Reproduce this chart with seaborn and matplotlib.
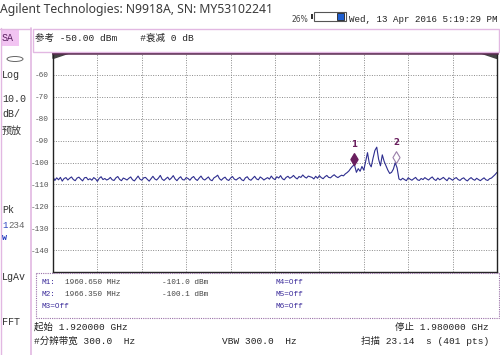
import numpy as np
import matplotlib
matplotlib.use("Agg")
import matplotlib.pyplot as plt
from matplotlib.path import Path
from matplotlib.patches import Rectangle, Ellipse
from matplotlib.lines import Line2D
import seaborn as sns

# 扫描参数
start_mhz = 1920.0
stop_mhz = 1980.0
ref_dbm = -50.0
db_per_div = 10.0

# 迹线读数 (每 0.25 MHz 一个点, 1920 -> 1980 MHz)
trace_dbm = [
    -106.5, -108.2, -107.0, -107.9, -106.8, -108.5, -107.3, -106.9, -108.0, -107.2,
    -106.6, -107.8, -108.3, -107.1, -106.7, -107.6, -108.4, -107.0, -106.8, -107.9,
    -107.4, -108.1, -106.9, -107.5, -108.6, -107.2, -106.5, -107.8, -107.3, -108.0,
    -107.6, -106.8, -107.9, -108.2, -107.0, -106.4, -107.7, -108.3, -107.1, -107.5,
    -108.0, -107.2, -106.6, -107.9, -108.4, -107.3, -106.2, -107.6, -108.1, -107.0,
    -106.8, -107.7, -108.5, -107.4, -106.3, -107.5, -108.0, -107.1, -105.9, -107.6,
    -108.2, -107.4, -106.7, -107.9, -107.1, -106.0, -107.5, -108.3, -107.2, -106.5,
    -107.8, -108.0, -106.9, -107.3, -108.1, -107.0, -106.4, -107.6, -108.2, -107.1,
    -106.2, -107.5, -108.0, -107.3, -106.6, -107.9, -108.3, -107.0, -106.5, -105.8,
    -107.4, -108.1, -107.2, -106.7, -107.8, -108.2, -107.1, -106.4, -107.6, -108.0,
    -107.3, -106.8, -107.9, -108.3, -107.0, -106.5, -107.7, -108.1, -107.2, -106.3,
    -107.5, -107.9, -106.6, -107.2, -108.0, -107.4, -106.9, -107.6, -106.2, -107.3,
    -107.8, -106.5, -107.1, -106.0, -107.4, -107.9, -106.8, -106.3, -107.2, -106.7,
    -105.9, -106.9, -107.5, -106.4, -106.8, -105.7, -106.6, -107.1, -106.2, -106.5,
    -106.8, -107.5, -106.3, -107.2, -106.0, -106.9, -107.4, -106.5, -105.9, -106.8,
    -107.0, -106.2, -105.6, -106.4, -106.9, -106.3, -105.8, -106.1, -105.2, -104.6,
    -103.8, -102.6, -101.6, -101.2, -104.5, -102.8, -104.0, -101.8, -103.5, -99.5,
    -95.5, -100.5, -102.0, -98.0, -94.5, -93.0, -98.5, -101.5, -96.5, -99.5,
    -101.5, -103.5, -105.0, -104.5, -103.0, -100.1, -102.5, -107.5, -108.0, -107.2,
    -107.8, -108.3, -107.0, -107.6, -108.1, -107.4, -106.8, -107.9, -108.2, -107.3,
    -107.8, -106.9, -107.5, -108.0, -107.2, -106.6, -107.7, -108.2, -107.1, -107.9,
    -107.4, -106.8, -107.6, -108.3, -107.0, -107.5, -108.1, -107.3, -106.9, -107.8,
    -108.2, -107.4, -107.0, -107.9, -108.4, -107.5, -106.9, -107.7, -108.1, -107.2,
    -107.8, -108.3, -107.6, -107.0, -107.9, -108.2, -107.4, -107.1, -106.3, -105.5,
    -104.5,
]

# 标记
marker_names = ["1", "2"]
marker_mhz = [1960.650, 1966.350]
marker_dbm = [-101.0, -100.1]

y_ticks = [-60, -70, -80, -90, -100, -110, -120, -130, -140]

freq_mhz = np.linspace(start_mhz, stop_mhz, len(trace_dbm))

sns.set_style("white")
plt.rcParams['font.family'] = ['Liberation Mono', 'Noto Sans CJK SC', 'DejaVu Sans']

W, H = 500, 355
fig = plt.figure(figsize=(5.0, 3.55), dpi=100)
fig.patch.set_facecolor("white")


def fx(x):
    return x / W


def fy(y):
    return 1 - y / H


def txt(x, y, s, size=6.5, color="#333333", ha="left", family=None, **kw):
    if family is None:
        family = ['Liberation Mono', 'Noto Sans CJK SC', 'DejaVu Sans']
    fig.text(fx(x), fy(y), s, fontsize=size, color=color, ha=ha, va="center",
             family=family, **kw)


def hline(x0, x1, y, **kw):
    fig.add_artist(Line2D([fx(x0), fx(x1)], [fy(y), fy(y)], transform=fig.transFigure, **kw))


def vline(x, y0, y1, **kw):
    fig.add_artist(Line2D([fx(x), fx(x)], [fy(y0), fy(y1)], transform=fig.transFigure, **kw))


# 顶部标题
txt(0, 10, "Agilent Technologies: N9918A, SN: MY53102241", size=8.8, color="#3a3a3a",
    family=['Noto Sans'])
txt(292, 19, "26%", size=5.5, color="#444444", family=['DejaVu Sans'])
fig.add_artist(Rectangle((fx(311), fy(19)), fx(2), 5 / H, transform=fig.transFigure,
                         facecolor="#333333", edgecolor="none"))
fig.add_artist(Rectangle((fx(314), fy(20.5)), fx(32), 8.5 / H, transform=fig.transFigure,
                         facecolor="white", edgecolor="#555555", lw=0.8))
fig.add_artist(Rectangle((fx(337), fy(19.5)), fx(7), 6.5 / H, transform=fig.transFigure,
                         facecolor="#1f5fd0", edgecolor="#222222", lw=0.6))
txt(349, 19, "Wed, 13 Apr 2016 5:19:29 PM", size=6.6, color="#222222")

# 左侧面板
pink = "#e2b8e2"
vline(31, 28, 355, color=pink, lw=1.2)
vline(0.5, 28, 355, color=pink, lw=1.0)
hline(0, 31, 28.5, color=pink, lw=1.0)
fig.add_artist(Rectangle((fx(0.5), fy(46)), fx(18), 16 / H, transform=fig.transFigure,
                         facecolor="#f2c4f2", edgecolor="none"))
txt(2, 38, "SA", size=7.2, color="#5a2060")
fig.add_artist(Ellipse((fx(15), fy(59)), fx(16), 5 / H, transform=fig.transFigure,
                       facecolor="none", edgecolor="#666666", lw=0.7))
txt(2, 75, "Log", size=7.2)
txt(2, 99, "10.0", size=7.2)
txt(2, 114, "dB/", size=7.2)
txt(2, 131, "预放", size=7.2)
txt(2, 210, "Pk", size=7.2)
txt(2, 225, "1", size=6.6, color="#2a40c0")
txt(8, 225, "234", size=6.6, color="#666666")
txt(2, 238, "W", size=6.0, color="#2a40c0", fontweight="bold")
txt(2, 277, "LgAv", size=7.2)
txt(2, 322, "FFT", size=7.2)

# 参考电平栏
fig.add_artist(Rectangle((fx(33), fy(52)), fx(466), 23 / H, transform=fig.transFigure,
                         facecolor="white", edgecolor=pink, lw=1.0))
txt(35, 38, "参考 -50.00 dBm    #衰减 0 dB", size=6.8, color="#222222")

# 频谱图
ax = fig.add_axes([fx(53), fy(272), fx(444), 219 / H])
sns.lineplot(x=freq_mhz, y=trace_dbm, ax=ax, color="#2e2e8f", lw=0.8)
ax.set_xlim(start_mhz, stop_mhz)
ax.set_ylim(ref_dbm - 10 * db_per_div, ref_dbm)
ax.set_xticks(np.linspace(start_mhz, stop_mhz, 11))
ax.set_yticks(y_ticks)
ax.set_yticklabels([str(v) for v in y_ticks], fontsize=5.6, color="#555555")
ax.set_xticklabels([])
ax.tick_params(axis="both", length=0, pad=3)
ax.grid(True, linestyle=(0, (1, 1.5)), color="#8a8a8a", lw=0.7)
for s in ["left", "bottom", "right"]:
    ax.spines[s].set_color("#222222")
    ax.spines[s].set_linewidth(1.0)
ax.spines["top"].set_color("#5a2a50")
ax.spines["top"].set_linewidth(1.8)
ax.set_xlabel("")
ax.set_ylabel("")

# 角落三角
ax.fill([start_mhz, start_mhz + 2.2, start_mhz], [ref_dbm, ref_dbm, ref_dbm - 2.5],
        color="#444444", clip_on=False)
ax.fill([stop_mhz, stop_mhz - 2.2, stop_mhz], [ref_dbm, ref_dbm, ref_dbm - 2.5],
        color="#444444", clip_on=False)

# 标记 (菱形底尖在迹线上)
tip_diamond = Path([(0, 0), (0.9, 1.5), (0, 3), (-0.9, 1.5), (0, 0)],
                   [Path.MOVETO, Path.LINETO, Path.LINETO, Path.LINETO, Path.CLOSEPOLY])
ax.plot(marker_mhz[0], marker_dbm[0], marker=tip_diamond, markersize=17,
        color="#6a1f5e", markeredgecolor="#6a1f5e")
ax.plot(marker_mhz[1], marker_dbm[1], marker=tip_diamond, markersize=17,
        markerfacecolor="none", markeredgecolor="#9a80aa", markeredgewidth=0.8,
        linestyle="none")
for name, fm, dm in zip(marker_names, marker_mhz, marker_dbm):
    ax.annotate(name, (fm, dm), xytext=(0, 11), textcoords="offset points",
                ha="center", va="bottom", fontsize=6.2, color="#6a1f5e",
                fontweight="bold", family=['DejaVu Sans'])

# 标记表
dot_col = "#9a70a8"
hline(36, 499, 273, color=dot_col, lw=0.8, linestyle=(0, (1, 1)))
hline(36, 499, 318, color=dot_col, lw=0.8, linestyle=(0, (1, 1)))
vline(36, 273, 318, color=dot_col, lw=0.8, linestyle=(0, (1, 1)))
vline(498.5, 273, 318, color=dot_col, lw=0.8, linestyle=(0, (1, 1)))
mcol = "#3a2a9a"
vcol = "#444444"
rows = [282, 294, 306]
msize = 5.6
txt(42, rows[0], "M1:", size=msize, color=mcol)
txt(65, rows[0], "1960.650 MHz", size=msize, color=vcol)
txt(162, rows[0], "-101.0 dBm", size=msize, color=vcol)
txt(42, rows[1], "M2:", size=msize, color=mcol)
txt(65, rows[1], "1966.350 MHz", size=msize, color=vcol)
txt(162, rows[1], "-100.1 dBm", size=msize, color=vcol)
txt(42, rows[2], "M3=Off", size=msize, color=mcol)
txt(275, rows[0], "M4=Off", size=msize, color=mcol)
txt(275, rows[1], "M5=Off", size=msize, color=mcol)
txt(275, rows[2], "M6=Off", size=msize, color=mcol)

# 底部参数
txt(34, 327, "起始 1.920000 GHz", size=6.8, color="#222222")
txt(489, 327, "停止 1.980000 GHz", size=6.8, color="#222222", ha="right")
txt(34, 341, "#分辨带宽 300.0  Hz", size=6.8, color="#222222")
txt(222, 341, "VBW 300.0  Hz", size=6.8, color="#222222")
txt(489, 341, "扫描 23.14  s (401 pts)", size=6.8, color="#222222", ha="right")

fig.savefig("out.png", dpi=100)
